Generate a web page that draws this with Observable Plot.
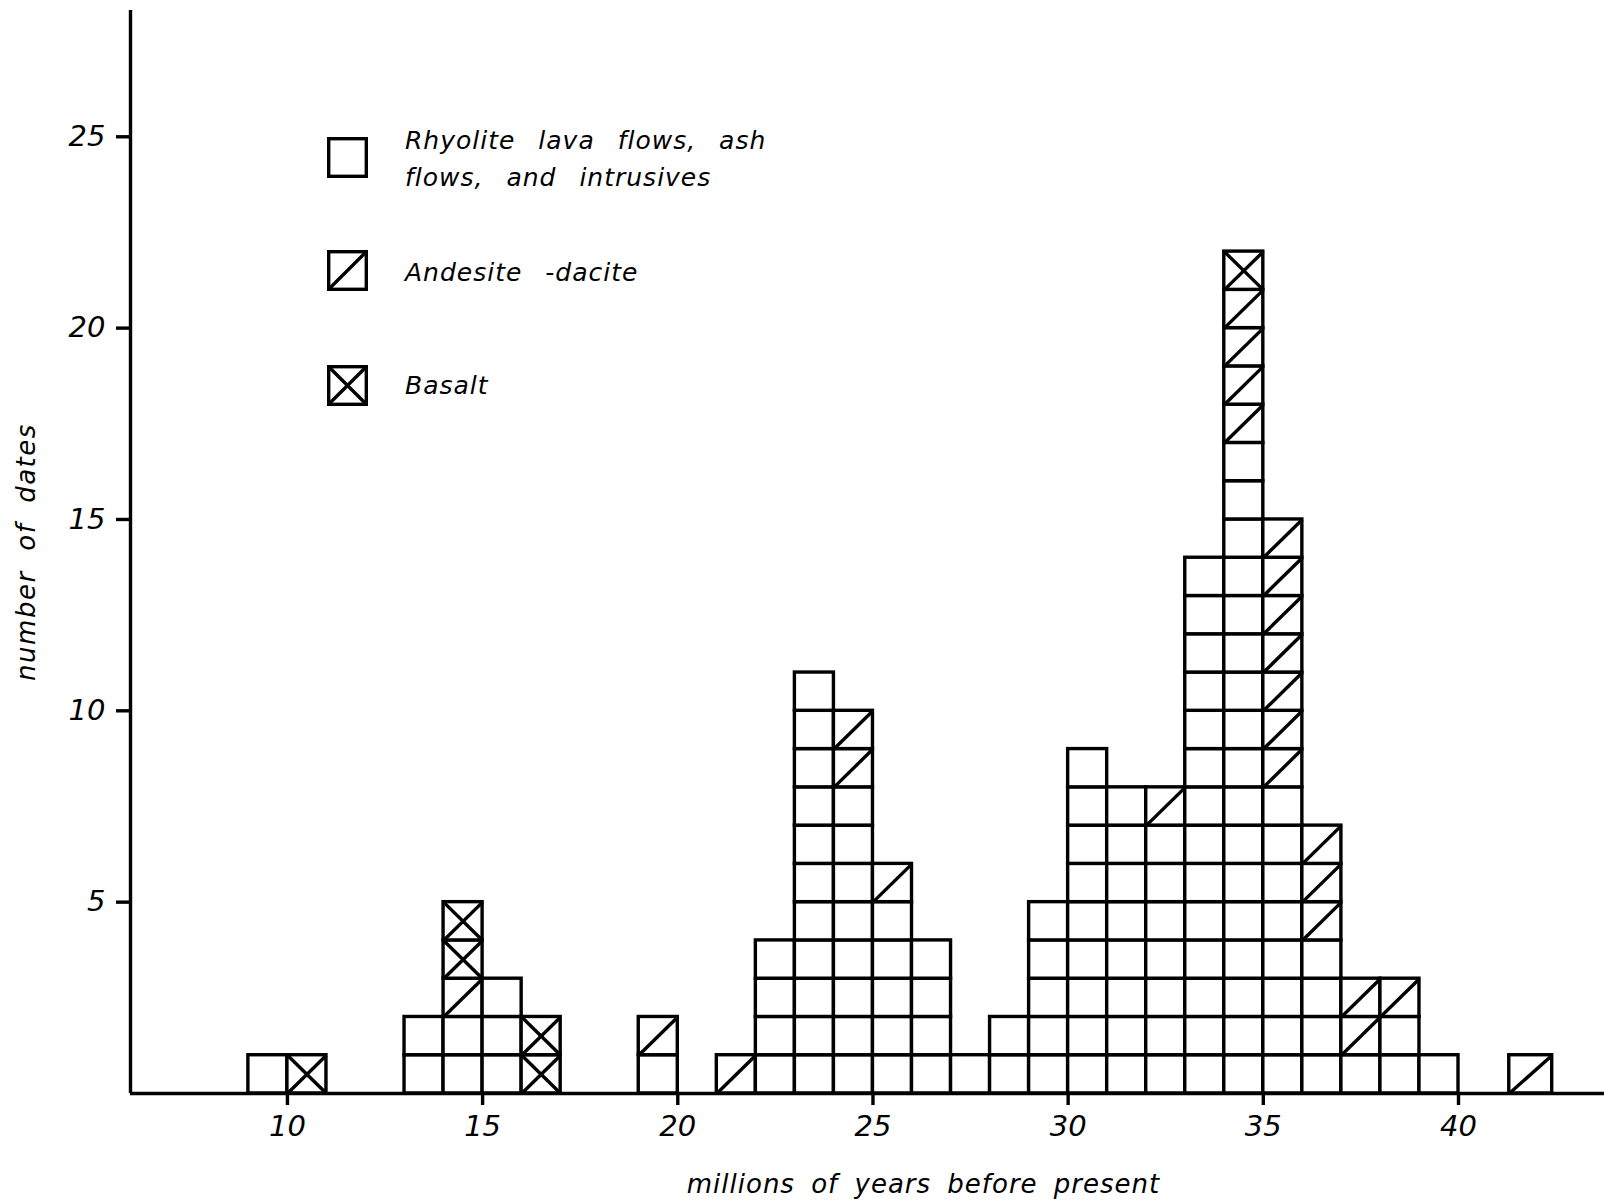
<!DOCTYPE html>
<html><head><meta charset="utf-8">
<script src="https://cdn.jsdelivr.net/npm/d3@7"></script>
<script src="https://cdn.jsdelivr.net/npm/@observablehq/plot@0.6"></script>
<style>
html,body{margin:0;padding:0;background:#fff;}
#wrap{position:relative;width:1604px;height:1203px;overflow:hidden;background:#fff;}
#legend{position:absolute;left:0;top:0;font-family:"DejaVu Sans",sans-serif;font-style:italic;font-size:25px;color:#000;}
.box{position:absolute;width:41px;height:41px;}
.lab{position:absolute;left:405px;white-space:nowrap;line-height:37px;letter-spacing:1px;word-spacing:14px;}
</style></head><body><div id="wrap"><div id="chart"></div><div id="legend"></div></div>
<script>
// ---- data ----
const binLeft  = [9, 10, 13, 14, 15, 16, 19, 21, 22, 23, 24, 25, 26, 27, 28, 29, 30, 31, 32, 33, 34, 35, 36, 37, 38, 39, 41.3];
const binRight = [10, 11, 14, 15, 16, 17, 20, 22, 23, 24, 25, 26, 27, 28, 29, 30, 31, 32, 33, 34, 35, 36, 37, 38, 39, 40, 42.4];
const rhyolite = [1, 0, 2, 2, 3, 0, 1, 0, 4, 11, 8, 5, 4, 1, 2, 5, 9, 8, 7, 14, 17, 8, 4, 1, 2, 1, 0];
const andesite = [0, 0, 0, 1, 0, 0, 1, 1, 0, 0, 2, 1, 0, 0, 0, 0, 0, 0, 1, 0, 4, 7, 3, 2, 1, 0, 1];
const basalt   = [0, 1, 0, 2, 0, 2, 0, 0, 0, 0, 0, 0, 0, 0, 0, 0, 0, 0, 0, 0, 1, 0, 0, 0, 0, 0, 0];
const xTicks = [10, 15, 20, 25, 30, 35, 40];
const yTicks = [5, 10, 15, 20, 25];
const xDomain = [5.98, 43.74];
const yDomain = [0, 28.3];
const rockTypes = ["rhyolite", "andesite", "basalt"];
const legendLabels = [["Rhyolite lava flows, ash", "flows, and intrusives"], ["Andesite -dacite"], ["Basalt"]];
const xLabel = "millions of years before present";
const yLabel = "number of dates";

// ---- stack cells: rhyolite, then andesite, then basalt ----
const series = {rhyolite, andesite, basalt};
const cells = [];
binLeft.forEach((x1, i) => {
  let y = 0;
  rockTypes.forEach(type => {
    for (let k = 0; k < series[type][i]; k++) {
      cells.push({x1, x2: binRight[i], y1: y, y2: y + 1, type});
      y++;
    }
  });
});
const slashCells = cells.filter(d => d.type !== "rhyolite");
const crossCells = cells.filter(d => d.type === "basalt");

const SW = 3.4;
const chart = Plot.plot({
  width: 1604,
  height: 1203,
  marginLeft: 130,
  marginRight: 0,
  marginTop: 10,
  marginBottom: 110,
  style: {fontFamily: "DejaVu Sans, sans-serif", fontStyle: "italic", background: "#fff", color: "#000"},
  x: {domain: xDomain},
  y: {domain: yDomain},
  marks: [
    Plot.rect(cells, {x1: "x1", x2: "x2", y1: "y1", y2: "y2", fill: "white", stroke: "black", strokeWidth: SW}),
    Plot.link(slashCells, {x1: "x1", y1: "y1", x2: "x2", y2: "y2", stroke: "black", strokeWidth: SW}),
    Plot.link(crossCells, {x1: "x1", y1: "y2", x2: "x2", y2: "y1", stroke: "black", strokeWidth: SW}),
    Plot.ruleY([yDomain[0]], {stroke: "black", strokeWidth: SW}),
    Plot.ruleX([xDomain[0]], {stroke: "black", strokeWidth: SW}),
    Plot.axisX({ticks: xTicks, tickSize: 12, tickPadding: 10, fontSize: 29, label: null, strokeWidth: SW, tickFormat: d => String(d)}),
    Plot.axisY({ticks: yTicks, tickSize: 14, tickPadding: 11, fontSize: 29, label: null, strokeWidth: SW, tickFormat: d => String(d)}),
    Plot.text([xLabel], {text: d => d, frameAnchor: "bottom", dx: 56, dy: 91, lineAnchor: "middle", textAnchor: "middle", fontSize: 26}),
    Plot.text([yLabel], {text: d => d, frameAnchor: "left", rotate: -90, dx: -104, lineAnchor: "middle", textAnchor: "middle", fontSize: 26})
  ]
});
document.getElementById("chart").appendChild(chart);
d3.select(chart).selectAll("text").each(function () {
  const t = this.textContent;
  if (t === xLabel) d3.select(this).style("letter-spacing", "1px").style("word-spacing", "7px");
  if (t === yLabel) d3.select(this).style("letter-spacing", "1.5px").style("word-spacing", "10px");
});

// ---- legend (HTML overlay) ----
const legendBoxTop = [137, 250, 365];
const legendTextTop = [122, 254, 367];
const legend = document.getElementById("legend");
rockTypes.forEach((type, i) => {
  const ns = "http://www.w3.org/2000/svg";
  const svg = document.createElementNS(ns, "svg");
  svg.setAttribute("class", "box");
  svg.setAttribute("viewBox", "0 0 41 41");
  svg.style.left = "327px";
  svg.style.top = legendBoxTop[i] + "px";
  let inner = '<rect x="1.7" y="1.7" width="37.6" height="37.6" fill="white" stroke="black" stroke-width="3.4"/>';
  if (type !== "rhyolite") inner += '<line x1="1.7" y1="39.3" x2="39.3" y2="1.7" stroke="black" stroke-width="3.4"/>';
  if (type === "basalt") inner += '<line x1="1.7" y1="1.7" x2="39.3" y2="39.3" stroke="black" stroke-width="3.4"/>';
  svg.innerHTML = inner;
  legend.appendChild(svg);
  const div = document.createElement("div");
  div.className = "lab";
  div.style.top = legendTextTop[i] + "px";
  div.innerHTML = legendLabels[i].join("<br>");
  legend.appendChild(div);
});
</script>
</body></html>
